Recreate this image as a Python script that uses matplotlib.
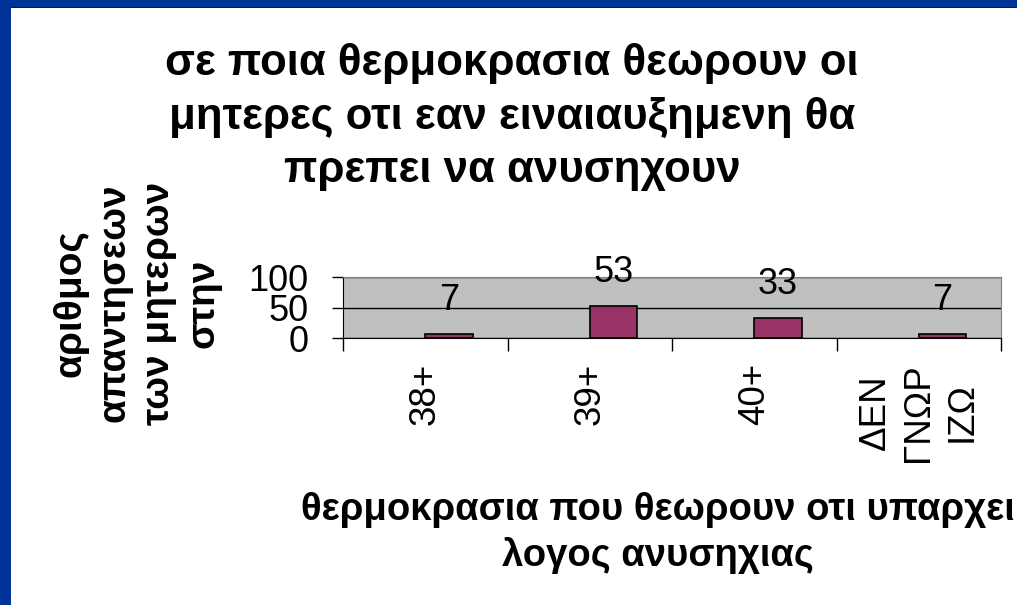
import matplotlib
matplotlib.use("Agg")
import numpy as np
from matplotlib import pyplot as plt
from matplotlib.patches import Rectangle

plt.rcParams['font.family'] = ['Liberation Sans', 'DejaVu Sans']

categories = ["38+", "39+", "40+", "ΔΕΝ\nΓΝΩΡ\nΙΖΩ"]
answers = [7, 53, 33, 7]
yticks = [0, 50, 100]

title = "σε ποια θερμοκρασια θεωρουν οι\nμητερες οτι εαν ειναιαυξημενη θα\nπρεπει να ανυσηχουν"
ylabel = "αριθμος\nαπαντησεων\nτων μητερων\nστην"
xlabel = "θερμοκρασια που θεωρουν οτι υπαρχει\nλογος ανυσηχιας"

W, H = 1017, 605
fig = plt.figure(figsize=(W / 100, H / 100), dpi=100)
fig.patch.set_facecolor("white")

# blue frame on top and left
fig.patches.append(Rectangle((0, 1 - 7 / H), 1, 7 / H, transform=fig.transFigure,
                             facecolor="#003399", edgecolor="none"))
fig.patches.append(Rectangle((0, 1 - 8 / H), 1, 1.2 / H, transform=fig.transFigure,
                             facecolor="#001a4d", edgecolor="none"))
fig.patches.append(Rectangle((0, 0), 11 / W, 1, transform=fig.transFigure,
                             facecolor="#003399", edgecolor="none"))

left, right, top, bottom = 343, 1001, 277, 338
ax = fig.add_axes([left / W, 1 - bottom / H, (right - left) / W, (bottom - top) / H])
ax.set_facecolor("#c0c0c0")

x = np.arange(len(categories))
bars = ax.bar(x, answers, width=0.29, align="edge", color="#993366",
              edgecolor="black", linewidth=1.2, zorder=3)
for xi, v in zip(x, answers):
    ax.annotate(str(v), (xi + 0.145, v), xytext=(0, 11.5), textcoords="offset points",
                ha="center", va="bottom", fontsize=26, zorder=4)

ax.set_xlim(-0.5, len(categories) - 0.5)
ax.set_ylim(0, 100)
ax.set_yticks(yticks)
ax.set_yticklabels([str(t) for t in yticks], fontsize=26)
ax.yaxis.grid(True, color="black", linewidth=1)
ax.set_axisbelow(True)

ax.set_xticks(x)
ax.set_xticklabels(categories, rotation=90, fontsize=26.5, multialignment="center",
                   linespacing=1.3)
ax.set_xticks(np.arange(len(categories) + 1) - 0.5, minor=True)
ax.tick_params(axis="x", which="major", length=0, pad=18)
ax.tick_params(axis="x", which="minor", length=9, width=1, direction="out")
ax.tick_params(axis="y", length=8, width=1, direction="out", pad=17)

for side in ["top", "right"]:
    ax.spines[side].set_color("#808080")
ax.spines["left"].set_color("black")
ax.spines["bottom"].set_color("black")

fig.text(512 / W, 1 - 117 / H, title, ha="center", va="center", fontsize=31.5,
         fontweight="bold", multialignment="center", linespacing=1.38)
fig.text(137 / W, 1 - 303 / H, ylabel, ha="center", va="center", rotation=90,
         fontsize=28, fontweight="bold", multialignment="center", linespacing=1.3)
fig.text(658 / W, 1 - 533 / H, xlabel, ha="center", va="center", fontsize=27.5,
         fontweight="bold", multialignment="center", linespacing=1.3)

fig.savefig("out.png", dpi=100, facecolor=fig.get_facecolor())
